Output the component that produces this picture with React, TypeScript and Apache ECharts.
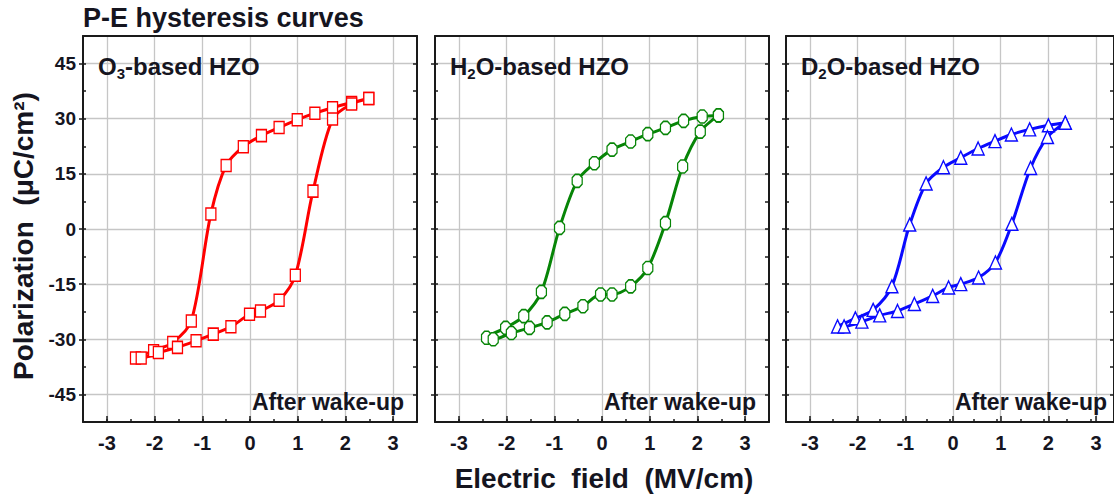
import React, { useEffect, useRef } from "react";
import * as echarts from "echarts";

// ---- data (loop order: upper branch from +E to -E, then lower branch back) ----
const o3E = [2.49, 2.13, 1.73, 1.36, 0.99, 0.61, 0.24, -0.14, -0.5, -0.82, -1.23, -1.62, -2.02, -2.4,
  -2.28, -1.92, -1.52, -1.13, -0.77, -0.4, -0.01, 0.22, 0.61, 0.95, 1.32, 1.73, 2.13, 2.49];
const o3P = [35.5, 34.4, 33.0, 31.5, 29.7, 27.6, 25.4, 22.4, 17.3, 4.1, -25.0, -30.9, -33.1, -35.1,
  -35.1, -33.6, -32.2, -30.4, -28.6, -26.6, -23.2, -22.3, -19.4, -12.6, 10.3, 29.9, 34.0, 35.5];

const h2oE = [2.44, 2.1, 1.71, 1.33, 0.96, 0.6, 0.21, -0.16, -0.52, -0.89, -1.27, -1.64, -2.02, -2.42,
  -2.28, -1.9, -1.52, -1.15, -0.78, -0.4, -0.03, 0.21, 0.6, 0.96, 1.33, 1.69, 2.06, 2.44];
const h2oP = [30.9, 30.6, 29.4, 27.5, 25.8, 23.8, 21.6, 17.9, 13.1, 0.3, -17.1, -23.7, -26.9, -29.6,
  -30.0, -28.3, -26.9, -25.4, -23.1, -21.0, -17.8, -17.8, -15.6, -10.6, 1.6, 17.0, 26.5, 30.9];

const d2oE = [2.46, 2.1, 1.7, 1.31, 0.96, 0.6, 0.23, -0.14, -0.51, -0.86, -1.24, -1.64, -2.02, -2.4,
  -2.26, -1.88, -1.5, -1.12, -0.76, -0.37, -0.03, 0.23, 0.61, 0.97, 1.32, 1.72, 2.08, 2.46];
const d2oP = [28.9, 28.2, 27.1, 25.7, 23.9, 21.9, 19.4, 16.8, 12.4, 1.2, -15.6, -22.0, -24.3, -26.5,
  -26.5, -25.2, -23.5, -22.3, -20.4, -18.2, -15.9, -15.0, -13.2, -9.1, 1.4, 16.6, 25.0, 28.9];

// axis ranges and tick steps
const xRange = [-3.5, 3.5];
const yRange = [-52.5, 52.5];
const xTickRange = [-3, 3];
const yTickRange = [-45, 45];
const xMajorStep = 1;
const yMajorStep = 15;

const panelColors = ["#ff0000", "#078507", "#0a0aff"];

const FONT = "'Liberation Sans', Arial, sans-serif";
const TXT = "#15151f";
const AX = "#1a1a1a";
const GRIDC = "#c6c6c6";

export default function App() {
  const ref = useRef<HTMLDivElement>(null);
  useEffect(() => {
    if (!ref.current) return;
    const chart = echarts.init(ref.current, undefined, { renderer: "svg" });

    const lefts = [83, 435, 786];
    const W = 334;
    const TOP = 36;
    const H = 386;
    const pxX = W / (xRange[1] - xRange[0]);
    const pxY = H / (yRange[1] - yRange[0]);

    const grids: any[] = [];
    const xAxes: any[] = [];
    const yAxes: any[] = [];
    lefts.forEach((l, i) => {
      const g0 = grids.length;
      // main plotting grid (frame + minor ticks)
      grids.push({ left: l, top: TOP, width: W, height: H });
      // grid for x major ticks / labels / vertical grid lines
      grids.push({
        left: l + (xTickRange[0] - xRange[0]) * pxX, top: TOP,
        width: (xTickRange[1] - xTickRange[0]) * pxX, height: H,
      });
      // grid for y major ticks / labels / horizontal grid lines
      grids.push({
        left: l, top: TOP + (yRange[1] - yTickRange[1]) * pxY,
        width: W, height: (yTickRange[1] - yTickRange[0]) * pxY,
      });

      // x axes: 4 per panel
      xAxes.push({
        type: "value", gridIndex: g0, min: xRange[0], max: xRange[1], interval: 0.5, position: "bottom",
        axisLine: { show: true, onZero: false, lineStyle: { color: AX, width: 2 } },
        axisTick: { show: true, inside: true, length: 3, lineStyle: { color: AX, width: 1.5 } },
        axisLabel: { show: false }, splitLine: { show: false }, z: 3,
      });
      xAxes.push({
        type: "value", gridIndex: g0, min: xRange[0], max: xRange[1], interval: 0.5, position: "top",
        axisLine: { show: true, onZero: false, lineStyle: { color: AX, width: 2 } },
        axisTick: { show: false }, axisLabel: { show: false }, splitLine: { show: false }, z: 3,
      });
      xAxes.push({
        type: "value", gridIndex: g0 + 1, min: xTickRange[0], max: xTickRange[1], interval: xMajorStep,
        position: "bottom",
        axisLine: { show: false, onZero: false },
        axisTick: { show: true, inside: true, length: 6, lineStyle: { color: AX, width: 1.5 } },
        axisLabel: {
          show: true, margin: 11, fontSize: 20, fontWeight: "bold", fontFamily: FONT, color: TXT,
        },
        splitLine: { show: true, lineStyle: { color: GRIDC, width: 1.3 } },
      });
      xAxes.push({
        type: "value", gridIndex: g0 + 2, min: xRange[0], max: xRange[1], show: false,
      });

      // y axes: 4 per panel
      yAxes.push({
        type: "value", gridIndex: g0, min: yRange[0], max: yRange[1], interval: 7.5, position: "left",
        axisLine: { show: true, onZero: false, lineStyle: { color: AX, width: 2 } },
        axisTick: { show: true, inside: true, length: 3, lineStyle: { color: AX, width: 1.5 } },
        axisLabel: { show: false }, splitLine: { show: false }, z: 3,
      });
      yAxes.push({
        type: "value", gridIndex: g0, min: yRange[0], max: yRange[1], interval: 7.5, position: "right",
        axisLine: { show: true, onZero: false, lineStyle: { color: AX, width: 2 } },
        axisTick: { show: true, inside: true, length: 4, lineStyle: { color: AX, width: 1.5 } },
        axisLabel: { show: false }, splitLine: { show: false }, z: 3,
      });
      yAxes.push({
        type: "value", gridIndex: g0 + 1, min: yRange[0], max: yRange[1], show: false,
      });
      yAxes.push({
        type: "value", gridIndex: g0 + 2, min: yTickRange[0], max: yTickRange[1], interval: yMajorStep,
        position: "left",
        axisLine: { show: false, onZero: false },
        axisTick: { show: true, inside: false, length: 4, lineStyle: { color: AX, width: 1.5 } },
        axisLabel: {
          show: i === 0, margin: 7, fontSize: 19, fontWeight: "bold", fontFamily: FONT, color: TXT,
        },
        splitLine: { show: true, lineStyle: { color: GRIDC, width: 1.3 } },
      });
    });

    const sets = [
      { e: o3E, p: o3P, symbol: "rect", size: [10, 12] },
      { e: h2oE, p: h2oP, symbol: "path://M3,0 L7,0 L10,3 L10,9 L7,12 L3,12 L0,9 L0,3 Z", size: [10, 13] },
      { e: d2oE, p: d2oP, symbol: "triangle", size: [12, 13] },
    ];
    const series = sets.map((s, i) => ({
      type: "line",
      xAxisIndex: i * 4,
      yAxisIndex: i * 4,
      data: s.e.map((x, k) => [x, s.p[k]]),
      smooth: 0.3,
      symbol: s.symbol,
      symbolSize: s.size,
      showAllSymbol: true,
      lineStyle: { color: panelColors[i], width: 3 },
      itemStyle: { color: "#ffffff", borderColor: panelColors[i], borderWidth: 1.4 },
      z: 5,
    }));

    const labelRich = {
      a: { fontSize: 24, fontWeight: "bold", fontFamily: FONT, fill: TXT, color: TXT, lineHeight: 29 },
      s: { fontSize: 15, fontWeight: "bold", fontFamily: FONT, fill: TXT, color: TXT, verticalAlign: "bottom", lineHeight: 15 },
    };
    const panelTexts = [
      "{a|O}{s|3}{a|-based HZO}",
      "{a|H}{s|2}{a|O-based HZO}",
      "{a|D}{s|2}{a|O-based HZO}",
    ];

    const graphic: any[] = [];
    lefts.forEach((l, i) => {
      graphic.push({
        type: "text", x: l + 15, y: 66, z: 10,
        style: { text: panelTexts[i], rich: labelRich, x: 0, y: 0, align: "left", verticalAlign: "middle", fill: TXT },
      });
      graphic.push({
        type: "text", x: l + W - 13, y: 402, z: 10,
        style: {
          text: "After wake-up", x: 0, y: 0, align: "right", verticalAlign: "middle",
          fontSize: 23, fontWeight: "bold", fontFamily: FONT, fill: TXT,
        },
      });
    });
    graphic.push({
      type: "text", x: 83, y: 18, z: 10,
      style: {
        text: "P-E hysteresis curves", x: 0, y: 0, align: "left", verticalAlign: "middle",
        fontSize: 27, fontWeight: "bold", fontFamily: FONT, fill: TXT,
      },
    });
    graphic.push({
      type: "text", x: 604, y: 478, z: 10,
      style: {
        text: "Electric  field  (MV/cm)", x: 0, y: 0, align: "center", verticalAlign: "middle",
        fontSize: 28, fontWeight: "bold", fontFamily: FONT, fill: TXT,
      },
    });
    graphic.push({
      type: "text", x: 23, y: 236, rotation: Math.PI / 2, z: 10,
      style: {
        text: "Polarization  (\u03bcC/cm\u00b2)", x: 0, y: 0, align: "center", verticalAlign: "middle",
        fontSize: 28, fontWeight: "bold", fontFamily: FONT, fill: TXT,
      },
    });

    chart.setOption({
      animation: false,
      backgroundColor: "#ffffff",
      grid: grids,
      xAxis: xAxes,
      yAxis: yAxes,
      series,
      graphic,
    });
    return () => chart.dispose();
  }, []);
  return (
    <div
      ref={ref}
      style={{ position: "fixed", left: 0, top: 0, width: 1114, height: 497 }}
    />
  );
}
